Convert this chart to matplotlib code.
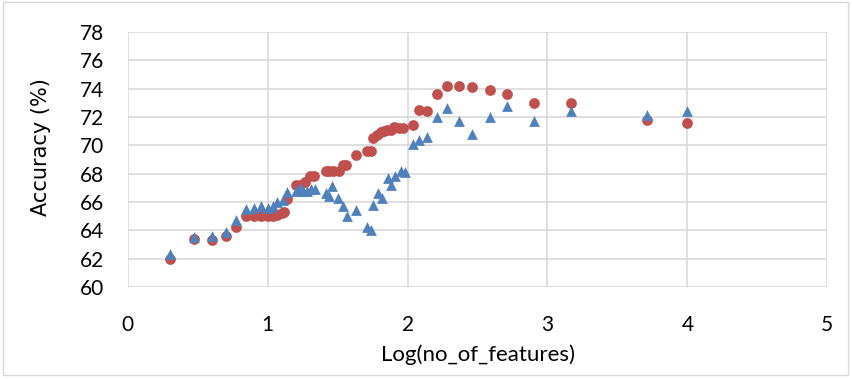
import matplotlib.pyplot as plt
from matplotlib.patches import Rectangle

# Datos
x_red = [0.30, 0.475, 0.60, 0.70, 0.775, 0.845, 0.90, 0.95, 1.00, 1.04, 1.07, 1.10, 1.12,
         1.14, 1.20, 1.23, 1.27, 1.30, 1.33, 1.42, 1.44, 1.47, 1.51, 1.54, 1.56, 1.63,
         1.71, 1.74, 1.75, 1.78, 1.81, 1.83, 1.85, 1.88, 1.90, 1.94, 1.97, 2.04, 2.08,
         2.14, 2.21, 2.28, 2.37, 2.46, 2.59, 2.71, 2.90, 3.17, 3.71, 4.00]
y_red = [62.0, 63.4, 63.3, 63.6, 64.2, 65.0, 65.0, 65.0, 65.0, 65.0, 65.05, 65.2, 65.3,
         66.2, 67.2, 67.2, 67.4, 67.8, 67.8, 68.2, 68.2, 68.2, 68.2, 68.6, 68.6, 69.3,
         69.6, 69.6, 70.5, 70.7, 70.9, 71.0, 71.1, 71.1, 71.3, 71.2, 71.2, 71.4, 72.5,
         72.4, 73.6, 74.2, 74.2, 74.1, 73.9, 73.6, 73.0, 73.0, 71.8, 71.6]

x_blue = [0.30, 0.475, 0.60, 0.70, 0.775, 0.845, 0.90, 0.95, 1.00, 1.04, 1.07, 1.11, 1.14,
          1.20, 1.23, 1.25, 1.28, 1.31, 1.34, 1.42, 1.44, 1.46, 1.50, 1.54, 1.57, 1.63,
          1.71, 1.74, 1.755, 1.79, 1.82, 1.86, 1.88, 1.91, 1.95, 1.98, 2.04, 2.08, 2.14,
          2.21, 2.28, 2.37, 2.46, 2.59, 2.71, 2.90, 3.17, 3.71, 4.00]
y_blue = [62.3, 63.5, 63.6, 63.9, 64.7, 65.5, 65.6, 65.7, 65.6, 65.7, 66.0, 66.1, 66.7,
          66.8, 67.0, 66.8, 66.8, 66.9, 66.9, 66.6, 66.4, 67.1, 66.3, 65.7, 65.0, 65.4,
          64.2, 64.0, 65.8, 66.6, 66.3, 67.7, 67.2, 67.8, 68.2, 68.1, 70.1, 70.4, 70.6,
          72.0, 72.6, 71.7, 70.8, 72.0, 72.8, 71.7, 72.4, 72.1, 72.4]

x_ticks = [0, 1, 2, 3, 4, 5]
y_ticks = [60, 62, 64, 66, 68, 70, 72, 74, 76, 78]

fig = plt.figure(figsize=(8.52, 3.79), dpi=100)
ax = fig.add_axes([0.150, 0.243, 0.821, 0.673])

ax.scatter(x_red, y_red, marker='o', s=60, color='#C0504D', zorder=3, linewidths=0)
ax.scatter(x_blue, y_blue, marker='^', s=60, color='#4F81BD', zorder=4, linewidths=0)

ax.set_xlim(0, 5)
ax.set_ylim(60, 78)
ax.set_xticks(x_ticks)
ax.set_yticks(y_ticks)
ax.grid(True, color='#d9d9d9', linewidth=1.2)
ax.set_axisbelow(True)
for s in ax.spines.values():
    s.set_visible(False)
ax.tick_params(axis='y', length=0, labelsize=15, pad=17)
ax.tick_params(axis='x', length=0, labelsize=15, pad=20)
for lab in ax.get_xticklabels() + ax.get_yticklabels():
    lab.set_family(['Lato', 'DejaVu Sans'])

ax.set_xlabel("Log(no_of_features)", fontsize=16, family=['Lato', 'DejaVu Sans'], labelpad=7)
ax.set_ylabel("Accuracy (%)", fontsize=15, family=['DejaVu Sans'])
ax.yaxis.set_label_coords(-0.11, 0.55)

fig.patches.append(Rectangle((0.003, 0.01), 0.992, 0.985, transform=fig.transFigure,
                             fill=False, edgecolor='#d9d9d9', linewidth=1))

plt.savefig('out.png', dpi=100)
